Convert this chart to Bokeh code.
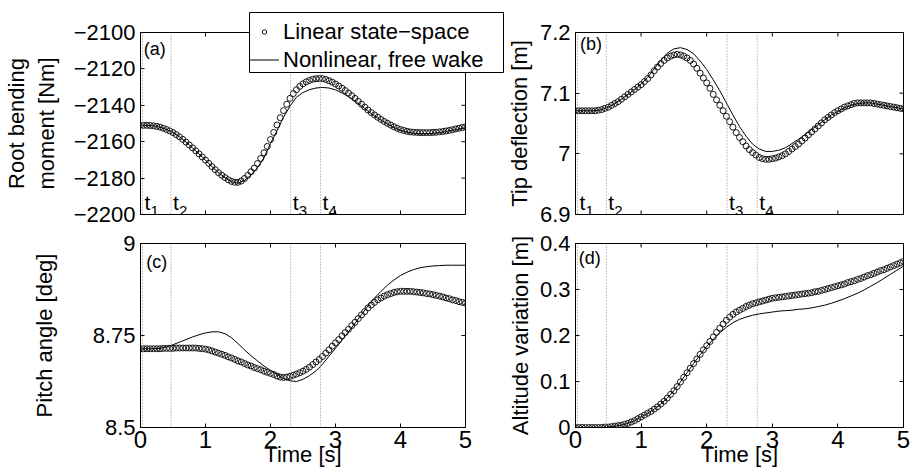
import math
from bokeh.plotting import figure
from bokeh.models import FixedTicker, Legend, LegendItem, Span, Range1d, GridBox
from bokeh.core.properties import value
from bokeh.embed import file_html
from bokeh.resources import INLINE

FONT = "Liberation Sans"

# ---------------- data ----------------
time_lin = [round(0.05 * i, 2) for i in range(101)]
time_non = [round(0.1 * i, 1) for i in range(51)]

event_times = [0.03, 0.47, 2.31, 2.77]
event_subs = ["1", "2", "3", "4"]

x_ticks = [0, 1, 2, 3, 4, 5]

# (a) root bending moment [Nm]
moment_lin = [
    -2151.0, -2151.0, -2151.0, -2151.1, -2151.3, -2151.6, -2152.0, -2152.6, -2153.3, -2154.1,
    -2155.0, -2156.1, -2157.3, -2158.7, -2160.2, -2161.8, -2163.4, -2165.0, -2166.7, -2168.4,
    -2170.1, -2171.9, -2173.7, -2175.4, -2177.0, -2178.4, -2179.7, -2180.9, -2181.8, -2182.3,
    -2182.3, -2181.6, -2180.2, -2178.5, -2176.5, -2174.5, -2172.0, -2169.2, -2166.1, -2162.6,
    -2158.8, -2154.9, -2150.8, -2146.8, -2142.9, -2139.4, -2136.2, -2133.6, -2131.4, -2129.6,
    -2128.2, -2127.1, -2126.3, -2125.7, -2125.4, -2125.3, -2125.4, -2125.8, -2126.5, -2127.3,
    -2128.3, -2129.4, -2130.6, -2131.9, -2133.3, -2134.7, -2136.2, -2137.8, -2139.4, -2141.0,
    -2142.6, -2144.0, -2145.3, -2146.6, -2147.8, -2148.9, -2149.9, -2150.9, -2151.8, -2152.6,
    -2153.3, -2153.8, -2154.3, -2154.6, -2154.8, -2154.9, -2155.0, -2155.0, -2155.0, -2155.0,
    -2154.9, -2154.8, -2154.6, -2154.4, -2154.1, -2153.8, -2153.4, -2153.0, -2152.6, -2152.2,
    -2151.8]
moment_non = [
    -2151.0, -2151.0, -2151.3, -2152.0, -2153.3, -2155.0, -2157.3, -2160.2, -2163.4, -2166.7,
    -2170.1, -2173.7, -2177.0, -2179.8, -2182.0, -2182.8, -2181.3, -2178.3, -2174.3, -2168.8,
    -2161.0, -2154.0, -2146.5, -2140.5, -2135.5, -2133.0, -2131.4, -2130.5, -2130.2, -2130.5,
    -2131.5, -2133.2, -2135.3, -2137.7, -2140.4, -2143.2, -2145.8, -2148.2, -2150.3, -2152.2,
    -2153.7, -2154.7, -2155.3, -2155.6, -2155.6, -2155.4, -2155.0, -2154.4, -2153.7, -2153.0,
    -2152.3]

# (b) tip deflection [m]
tip_lin = [
    7.071, 7.071, 7.071, 7.071, 7.071, 7.071, 7.071, 7.072, 7.073, 7.075,
    7.077, 7.080, 7.083, 7.086, 7.090, 7.094, 7.098, 7.102, 7.106, 7.110,
    7.114, 7.119, 7.124, 7.130, 7.137, 7.143, 7.149, 7.154, 7.158, 7.161,
    7.163, 7.164, 7.163, 7.161, 7.158, 7.154, 7.148, 7.141, 7.133, 7.125,
    7.117, 7.108, 7.098, 7.089, 7.080, 7.071, 7.062, 7.053, 7.044, 7.035,
    7.027, 7.020, 7.013, 7.007, 7.002, 6.998, 6.994, 6.992, 6.991, 6.991,
    6.992, 6.993, 6.995, 6.997, 7.000, 7.004, 7.008, 7.012, 7.016, 7.021,
    7.026, 7.031, 7.036, 7.041, 7.046, 7.051, 7.056, 7.060, 7.064, 7.068,
    7.071, 7.074, 7.077, 7.079, 7.081, 7.083, 7.084, 7.084, 7.084, 7.084,
    7.084, 7.083, 7.082, 7.081, 7.080, 7.079, 7.078, 7.077, 7.076, 7.075,
    7.074]
tip_non = [
    7.071, 7.071, 7.071, 7.071, 7.073, 7.077, 7.083, 7.090, 7.098, 7.106,
    7.115, 7.126, 7.140, 7.154, 7.166, 7.173, 7.175, 7.172, 7.165, 7.153,
    7.139, 7.122, 7.104, 7.084, 7.064, 7.045, 7.029, 7.016, 7.008, 7.004,
    7.004, 7.006, 7.010, 7.017, 7.024, 7.032, 7.040, 7.048, 7.056, 7.064,
    7.070, 7.076, 7.080, 7.083, 7.084, 7.084, 7.082, 7.080, 7.078, 7.076,
    7.074]

# (c) pitch angle [deg]
pitch_lin = [
    8.714, 8.714, 8.714, 8.714, 8.714, 8.714, 8.714, 8.715, 8.715, 8.715,
    8.715, 8.716, 8.716, 8.716, 8.716, 8.716, 8.716, 8.716, 8.715, 8.714,
    8.713, 8.711, 8.708, 8.705, 8.702, 8.699, 8.696, 8.692, 8.689, 8.685,
    8.681, 8.678, 8.674, 8.670, 8.667, 8.663, 8.660, 8.657, 8.653, 8.650,
    8.647, 8.644, 8.640, 8.637, 8.636, 8.637, 8.639, 8.642, 8.645, 8.649,
    8.653, 8.658, 8.664, 8.671, 8.678, 8.685, 8.693, 8.702, 8.711, 8.721,
    8.730, 8.739, 8.749, 8.758, 8.767, 8.777, 8.786, 8.796, 8.806, 8.815,
    8.825, 8.833, 8.840, 8.847, 8.852, 8.857, 8.861, 8.864, 8.867, 8.869,
    8.870, 8.870, 8.870, 8.870, 8.869, 8.868, 8.867, 8.866, 8.864, 8.863,
    8.861, 8.859, 8.857, 8.855, 8.852, 8.850, 8.847, 8.845, 8.842, 8.840,
    8.838]
pitch_non = [
    8.714, 8.714, 8.714, 8.715, 8.719, 8.725, 8.732, 8.739, 8.746, 8.752,
    8.757, 8.760, 8.760, 8.755, 8.744, 8.728, 8.711, 8.695, 8.681, 8.667,
    8.655, 8.644, 8.633, 8.627, 8.625, 8.631, 8.641, 8.654, 8.672, 8.694,
    8.715, 8.737, 8.760, 8.783, 8.807, 8.831, 8.852, 8.870, 8.887, 8.901,
    8.913, 8.922, 8.929, 8.934, 8.937, 8.939, 8.940, 8.941, 8.941, 8.941,
    8.941]

# (d) altitude variation [m]
alt_lin = [
    0.000, 0.000, 0.000, 0.000, 0.000, 0.000, 0.000, 0.000, 0.000, 0.001,
    0.001, 0.002, 0.003, 0.004, 0.005, 0.007, 0.009, 0.012, 0.015, 0.019,
    0.023, 0.027, 0.031, 0.035, 0.040, 0.045, 0.051, 0.057, 0.064, 0.072,
    0.080, 0.089, 0.099, 0.109, 0.119, 0.129, 0.139, 0.149, 0.159, 0.169,
    0.178, 0.187, 0.197, 0.207, 0.216, 0.225, 0.233, 0.240, 0.246, 0.251,
    0.255, 0.259, 0.263, 0.266, 0.269, 0.271, 0.273, 0.275, 0.277, 0.279,
    0.281, 0.282, 0.283, 0.284, 0.285, 0.286, 0.287, 0.288, 0.289, 0.290,
    0.291, 0.292, 0.293, 0.295, 0.296, 0.298, 0.300, 0.302, 0.304, 0.306,
    0.308, 0.310, 0.312, 0.315, 0.317, 0.319, 0.322, 0.324, 0.327, 0.330,
    0.332, 0.335, 0.338, 0.341, 0.343, 0.346, 0.349, 0.352, 0.355, 0.358,
    0.361]
alt_non = [
    0.000, 0.000, 0.000, 0.000, 0.000, 0.001, 0.003, 0.005, 0.009, 0.015,
    0.023, 0.031, 0.040, 0.051, 0.064, 0.080, 0.099, 0.119, 0.139, 0.158,
    0.176, 0.192, 0.206, 0.218, 0.228, 0.235, 0.240, 0.244, 0.247, 0.249,
    0.251, 0.253, 0.254, 0.255, 0.257, 0.258, 0.260, 0.263, 0.266, 0.270,
    0.275, 0.280, 0.286, 0.292, 0.299, 0.307, 0.315, 0.324, 0.333, 0.342,
    0.351]

moment_ticks = [-2200, -2180, -2160, -2140, -2120, -2100]
moment_tick_labels = ["\u22122200", "\u22122180", "\u22122160", "\u22122140", "\u22122120", "\u22122100"]
tip_ticks = [6.9, 7.0, 7.1, 7.2]
tip_tick_labels = ["6.9", "7", "7.1", "7.2"]
pitch_ticks = [8.5, 8.75, 9.0]
pitch_tick_labels = ["8.5", "8.75", "9"]
alt_ticks = [0.0, 0.1, 0.2, 0.3, 0.4]
alt_tick_labels = ["0", "0.1", "0.2", "0.3", "0.4"]

legend_labels = ["Linear state\u2212space", "Nonlinear, free wake"]

for arr in (moment_lin, tip_lin, pitch_lin, alt_lin):
    assert len(arr) == len(time_lin), len(arr)
for arr in (moment_non, tip_non, pitch_non, alt_non):
    assert len(arr) == len(time_non), len(arr)


def style_axis(ax, ticks, size, overrides=None):
    ax.ticker = FixedTicker(ticks=ticks)
    ax.major_tick_in = 4
    ax.major_tick_out = 0
    ax.minor_tick_line_color = None
    ax.axis_line_color = "black"
    ax.major_tick_line_color = "black"
    ax.major_label_text_font = FONT
    ax.major_label_text_color = "black"
    ax.major_label_text_font_size = size
    if overrides is not None:
        ax.major_label_overrides = overrides


def build(width, height, borders, yrange, yticks, ytick_labels, ylabel, ylabel_standoff,
          show_x, lin, non, letter, letter_x, letter_dy, with_t_labels):
    p = figure(width=width, height=height, x_range=Range1d(0, 5), y_range=Range1d(*yrange),
               output_backend="svg", toolbar_location=None,
               x_axis_location="below" if show_x else None,
               min_border_left=borders[0], min_border_right=borders[1],
               min_border_top=borders[2], min_border_bottom=borders[3])
    p.outline_line_color = "black"
    p.outline_line_width = 1
    p.grid.visible = False
    p.background_fill_color = "white"
    p.border_fill_color = "white"

    ymin, ymax = yrange

    # left axis
    ov = {t: l for t, l in zip(yticks, ytick_labels)}
    ya = p.yaxis[0]
    style_axis(ya, yticks, "22px", ov)
    ya.major_label_standoff = 5
    ya.axis_label = ylabel
    ya.axis_label_text_font = FONT
    ya.axis_label_text_font_size = "22px"
    ya.axis_label_text_font_style = "normal"
    ya.axis_label_text_color = "black"
    ya.axis_label_standoff = ylabel_standoff

    if show_x:
        xa = p.xaxis[0]
        style_axis(xa, x_ticks, "24px")
        xa.major_label_standoff = 3
        xa.axis_label = "Time [s]"
        xa.axis_label_text_font = FONT
        xa.axis_label_text_font_size = "22px"
        xa.axis_label_text_font_style = "normal"
        xa.axis_label_text_color = "black"
        xa.axis_label_standoff = -9
    else:
        # inward ticks on the bottom edge (the half outside the frame is clipped)
        p.scatter(x=x_ticks, y=[ymin] * len(x_ticks), marker="dash", angle=math.pi / 2,
                  size=8, line_color="black", line_width=1)

    # inward ticks on top and right edges
    p.scatter(x=x_ticks, y=[ymax] * len(x_ticks), marker="dash", angle=math.pi / 2,
              size=8, line_color="black", line_width=1)
    p.scatter(x=[5] * len(yticks), y=yticks, marker="dash",
              size=8, line_color="black", line_width=1)

    # event lines
    for t in event_times:
        p.add_layout(Span(location=t, dimension="height", line_color="#888888",
                          line_dash="1 2", line_width=1))

    p.scatter(time_lin, lin, marker="circle", size=6, fill_color=None,
              line_color="black", line_width=0.9)
    p.line(time_non, non, line_color="black", line_width=1)

    # panel letter
    p.text(x=[letter_x], y=[ymax], text=[letter], y_offset=letter_dy,
           text_baseline="top", text_align="left", text_font=value(FONT),
           text_font_size="18px", text_color="black")

    if with_t_labels:
        p.text(x=event_times, y=[ymin] * len(event_times), text=["t"] * len(event_times),
               x_offset=2, y_offset=-12, text_baseline="alphabetic", text_align="left",
               text_font=value(FONT), text_font_size="21px", text_color="black")
        p.text(x=event_times, y=[ymin] * len(event_times), text=event_subs,
               x_offset=8, y_offset=-4, text_baseline="alphabetic", text_align="left",
               text_font=value(FONT), text_font_size="15px", text_color="black")
    return p


LW, RW = 503, 410
H1, H2 = 228, 247

pa = build(LW, H1, (133, LW - 465, 29, 14), (-2200, -2100), moment_ticks, moment_tick_labels,
           "Root bending\nmoment [Nm]", 12, False, moment_lin, moment_non,
           "(a)", 0.05, 6, True)
pb = build(RW, H1, (69, 10, 32, 12), (6.9, 7.2), tip_ticks, tip_tick_labels,
           "Tip deflection [m]", 5, False, tip_lin, tip_non, "(b)", 0.07, 1, True)
pc = build(LW, H2, (133, LW - 465, 14, 48), (8.5, 9.0), pitch_ticks, pitch_tick_labels,
           "Pitch angle [deg]", 33, True, pitch_lin, pitch_non, "(c)", 0.09, 8, False)
pd = build(RW, H2, (69, 10, 15, 48), (0.0, 0.4), alt_ticks, alt_tick_labels,
           "Altitude variation [m]", 4, True, alt_lin, alt_non, "(d)", 0.05, 4, False)

# legend as its own small figure, overlaid across the top of the grid;
# its frame outline is the legend box
lf = figure(width=256, height=62, x_range=Range1d(0, 1), y_range=Range1d(0, 1),
            x_axis_location=None, y_axis_location=None, output_backend="svg",
            toolbar_location=None, min_border=1)
lf.outline_line_color = "black"
lf.outline_line_width = 1
lf.grid.visible = False
lf.background_fill_color = "white"
lf.background_fill_alpha = 1
lf.border_fill_alpha = 0
# legend proxies (their points lie outside the visible range)
r_lin = lf.scatter(x=[2], y=[2], marker="circle", size=5, fill_color=None,
                   line_color="black", line_width=0.9)
r_non = lf.line(x=[2, 3], y=[2, 2], line_color="black", line_width=1)
legend = Legend(items=[LegendItem(label=legend_labels[0], renderers=[r_lin]),
                       LegendItem(label=legend_labels[1], renderers=[r_non])],
                location=(0, -1))
legend.label_text_font = FONT
legend.label_text_font_size = "22px"
legend.label_text_color = "black"
legend.glyph_width = 30
legend.glyph_height = 11
legend.label_height = 27
legend.label_width = 205
legend.label_standoff = 4
legend.padding = 2
legend.spacing = 1
legend.margin = 0
legend.border_line_color = None
legend.background_fill_alpha = 0
lf.add_layout(legend)

grid = GridBox(children=[(pa, 0, 0, 3, 2), (pb, 0, 2, 3, 2),
                         (pc, 3, 0, 1, 2), (pd, 3, 2, 1, 2),
                         (lf, 1, 1, 1, 2)],
               rows=["11px", "62px", "155px", "247px"],
               cols=["248px", "255px", "1px", "409px"])

with open("out.html", "w") as f:
    f.write(file_html(grid, INLINE))
